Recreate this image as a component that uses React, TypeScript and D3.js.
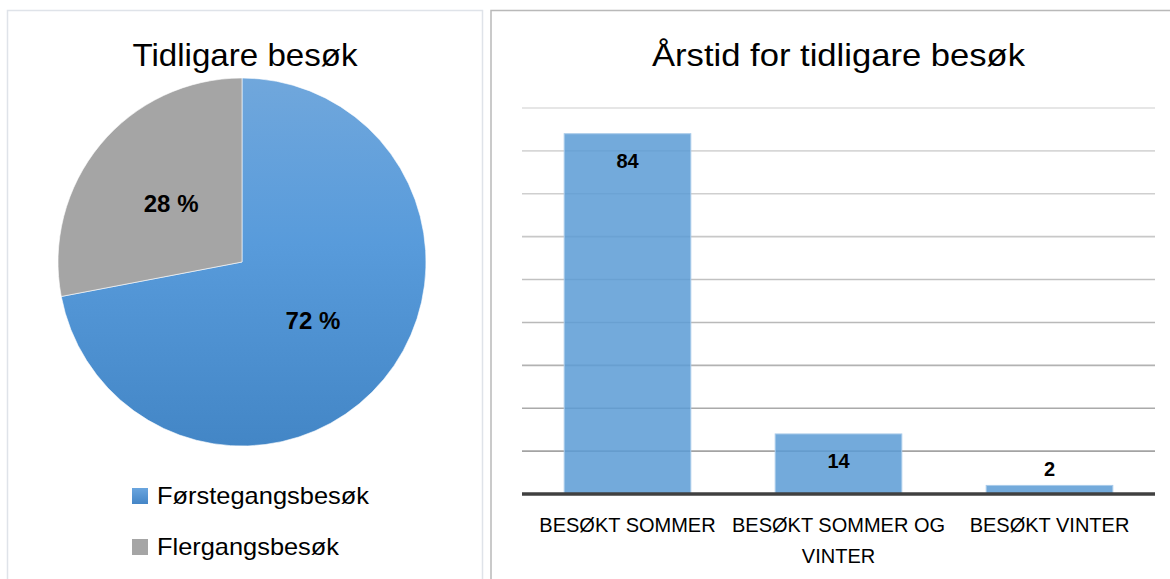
import React from "react";
import * as d3 from "d3";

const pieLabels = ["Førstegangsbesøk", "Flergangsbesøk"];
const pieValues = [72, 28];
const pieTitle = "Tidligare besøk";

const barTitle = "Årstid for tidligare besøk";
const barCategories = ["BESØKT SOMMER", "BESØKT SOMMER OG VINTER", "BESØKT VINTER"];
const barValues = [84, 14, 2];
const yMax = 90;
const yStep = 10;

const FONT = "'Liberation Sans', Arial, sans-serif";

function wrap(s: string, maxChars: number): string[] {
  const words = s.split(" ");
  const lines: string[] = [];
  let cur = "";
  for (const w of words) {
    const t = cur ? cur + " " + w : w;
    if (t.length > maxChars && cur) {
      lines.push(cur);
      cur = w;
    } else cur = t;
  }
  if (cur) lines.push(cur);
  return lines;
}

export default function App() {
  const W = 1170, H = 579;
  // pie
  const cx = 242, cy = 262, R = 184;
  const pie = d3.pie<number>().sort(null).value((d) => d)(pieValues);
  const arc = d3.arc<d3.PieArcDatum<number>>().innerRadius(0).outerRadius(R);
  const pieFills = ["url(#blueGrad)", "#a5a5a5"];

  // bars
  const x0 = 522, x1 = 1155, yTop = 108, yBase = 494;
  const x = d3.scaleBand<string>().domain(barCategories).range([x0, x1]).paddingInner(0.4).paddingOuter(0.2);
  const y = d3.scaleLinear().domain([0, yMax]).range([yBase, yTop]);
  const ticks = d3.range(yStep, yMax + yStep / 2, yStep);
  const gridColor = d3.scaleLinear<string>().domain([yMax, yStep]).range(["#dedede", "#a3a3a3"]);

  return (
    <svg width={W} height={H} style={{ position: "absolute", left: 0, top: 0 }} fontFamily={FONT}>
      <defs>
        <linearGradient id="blueGrad" gradientUnits="userSpaceOnUse" x1="0" y1={-R} x2="0" y2={R}>
          <stop offset="0" stopColor="#70a7dc" />
          <stop offset="0.45" stopColor="#589bdb" />
          <stop offset="1" stopColor="#4386c6" />
        </linearGradient>
        <linearGradient id="blueGradSq" x1="0" y1="0" x2="0" y2="1">
          <stop offset="0" stopColor="#6aa5de" />
          <stop offset="1" stopColor="#4485c6" />
        </linearGradient>
      </defs>
      <rect x={0} y={0} width={W} height={H} fill="#ffffff" />

      {/* Left panel */}
      <rect x={7.5} y={10.5} width={475} height={620} fill="#fff" stroke="#dfe3e9" strokeWidth={1.5} />
      <text x={245} y={66} textAnchor="middle" fontSize={32} fill="#000" textLength={225} lengthAdjust="spacingAndGlyphs">
        {pieTitle}
      </text>
      <g transform={`translate(${cx},${cy})`}>
        {pie.map((p, i) => (
          <path key={i} d={arc(p) || ""} fill={pieFills[i]} stroke="#ffffff" strokeWidth={0.6} />
        ))}
        {pie.map((p, i) => {
          const [lx, ly] = arc.centroid(p);
          return (
            <text key={"l" + i} x={lx} y={ly} dy="0.36em" textAnchor="middle" fontSize={24} fontWeight="bold" fill="#000">
              {`${pieValues[i]} %`}
            </text>
          );
        })}
      </g>
      {pieLabels.map((lab, i) => (
        <g key={lab} transform={`translate(132,${488 + i * 51})`}>
          <rect x={0} y={0} width={16} height={16} fill={i === 0 ? "url(#blueGradSq)" : "#a5a5a5"} />
          <text x={25} y={16} fontSize={24} fill="#000" textLength={i === 0 ? 212 : 182} lengthAdjust="spacingAndGlyphs">
            {lab}
          </text>
        </g>
      ))}

      {/* Right panel */}
      <rect x={491} y={10.5} width={720} height={620} fill="#fff" stroke="#b9b9b9" strokeWidth={1.5} />
      <text x={(x0 + x1) / 2} y={66} textAnchor="middle" fontSize={32} fill="#000" textLength={373} lengthAdjust="spacingAndGlyphs">
        {barTitle}
      </text>
      {ticks.map((t) => (
        <line key={t} x1={x0} x2={x1} y1={y(t)} y2={y(t)} stroke={gridColor(t)} strokeWidth={1.6} />
      ))}
      {barCategories.map((c, i) => {
        const bx = x(c)!;
        const by = y(barValues[i]);
        const bh = yBase - by;
        return (
          <g key={c}>
            <rect x={bx} y={by} width={x.bandwidth()} height={bh} fill="#5b9bd5" fillOpacity={0.85} stroke="#a8caea" strokeWidth={1} />
            <text
              x={bx + x.bandwidth() / 2}
              y={bh > 30 ? by + 34 : by - 9}
              textAnchor="middle"
              fontSize={20}
              fontWeight="bold"
              fill="#000"
            >
              {barValues[i]}
            </text>
          </g>
        );
      })}
      <line x1={x0} x2={x1} y1={yBase} y2={yBase} stroke="#404040" strokeWidth={3.5} />
      {barCategories.map((c) => {
        const lines = wrap(c, 16);
        return (
          <text key={"c" + c} x={x(c)! + x.bandwidth() / 2} textAnchor="middle" fontSize={20} fill="#000">
            {lines.map((ln, j) => (
              <tspan key={j} x={x(c)! + x.bandwidth() / 2} y={532 + j * 31}>
                {ln}
              </tspan>
            ))}
          </text>
        );
      })}
    </svg>
  );
}
